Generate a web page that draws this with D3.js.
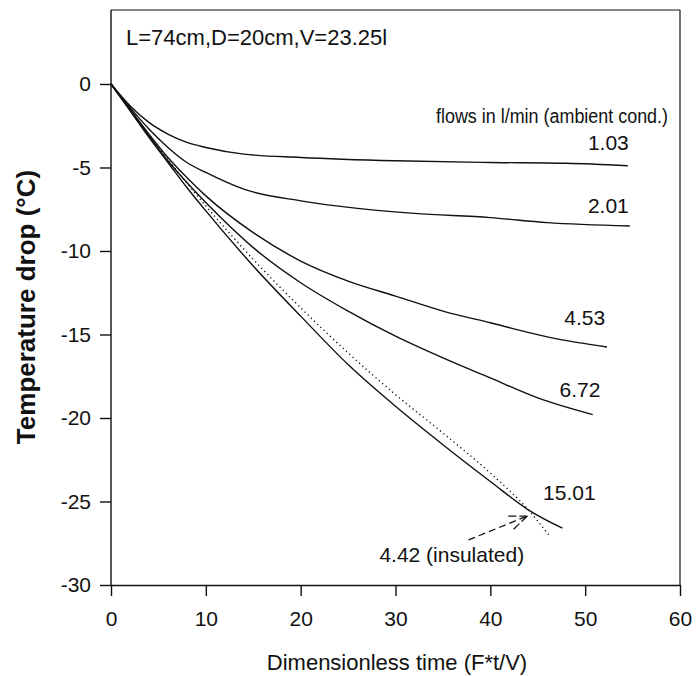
<!DOCTYPE html>
<html>
<head>
    <title>Temperature drop</title>
    <style type="text/css">
        body { margin: 0; background: #fff; }
        svg text {
            font-family: "Liberation Sans", Arial, sans-serif;
            font-size: 21px;
            fill: #111;
        }
        .curve { fill: none; stroke: #111; stroke-width: 1.4; }
        .domain, .tick line { stroke: #111; stroke-width: 1.4; }
    </style>
</head>
<body>
<script src="https://d3js.org/d3.v7.min.js" type="text/javascript"></script>
<script type="text/javascript">

    // tick values
    var xTicks = [0, 10, 20, 30, 40, 50, 60];
    var yTicks = [0, -5, -10, -15, -20, -25, -30];

    // flows in l/min and their curves [time, drop]
    var flowLabels = ['1.03', '2.01', '4.53', '6.72', '15.01'];
    var flow103 = [[0,0],[2,-1.3],[4,-2.3],[6,-3.0],[8,-3.5],[10,-3.8],[14,-4.2],[20,-4.4],[30,-4.6],[40,-4.7],[48,-4.75],[54.5,-4.9]];
    var flow201 = [[0,0],[2,-1.4],[4,-2.7],[6,-3.8],[8,-4.7],[10,-5.3],[14,-6.3],[20,-7.0],[26,-7.45],[32,-7.75],[40,-8.0],[46,-8.3],[54.7,-8.5]];
    var flow453 = [[0,0],[2,-1.5],[4,-3.0],[6,-4.4],[8,-5.6],[10,-6.7],[15,-8.9],[20,-10.6],[25,-11.8],[30,-12.7],[35,-13.6],[40,-14.3],[46.5,-15.2],[52.3,-15.75]];
    var flow672 = [[0,0],[2,-1.55],[4,-3.1],[6,-4.6],[8,-5.9],[10,-7.1],[15,-9.8],[20,-11.9],[25,-13.6],[30,-15.1],[35,-16.4],[40,-17.6],[45,-18.8],[50.8,-19.8]];
    var flow1501 = [[0,0],[2,-1.6],[4,-3.2],[6,-4.7],[8,-6.2],[10,-7.6],[15,-10.9],[20,-13.9],[25,-16.8],[30,-19.3],[35,-21.6],[40,-23.8],[44,-25.5],[47.6,-26.6]];
    // insulated run, 4.42 l/min (dotted)
    var insulated = [[0,0],[5,-3.8],[10,-7.3],[15,-10.5],[20,-13.4],[25,-16.1],[30,-18.6],[35,-20.9],[40,-23.3],[44,-25.5],[46.3,-27.1]];

    // label anchors (right end, baseline) in data units
    var labelPos = [[54.6,-3.95],[54.6,-7.75],[52.1,-14.45],[51.6,-18.75],[51.1,-24.9]];

    var svg = d3.select('body').append('svg')
        .attr('width', 696)
        .attr('height', 676);

    var x = d3.scaleLinear().domain([0, 60]).range([111, 680]);
    var y = d3.scaleLinear().domain([-30, 4.43]).range([585, 10]);

    // frame top and right
    svg.append('line').attr('x1', x(0)).attr('x2', x(60)).attr('y1', y(4.43)).attr('y2', y(4.43))
        .attr('stroke', '#111').attr('stroke-width', 1.2);
    svg.append('line').attr('x1', x(60)).attr('x2', x(60)).attr('y1', y(4.43)).attr('y2', y(-30))
        .attr('stroke', '#111').attr('stroke-width', 1.2);

    var fmt = function (d) { return String(d); };
    var xAxis = svg.append('g')
        .attr('transform', 'translate(0,' + y(-30) + ')')
        .call(d3.axisBottom(x).tickValues(xTicks).tickFormat(fmt).tickSize(11).tickPadding(15).tickSizeOuter(0));
    var yAxis = svg.append('g')
        .attr('transform', 'translate(' + x(0) + ',0)')
        .call(d3.axisLeft(y).tickValues(yTicks).tickFormat(fmt).tickSize(11).tickPadding(9).tickSizeOuter(0));
    svg.selectAll('.tick text').style('font-family', '"Liberation Sans", Arial, sans-serif').style('font-size', '21px').attr('fill', '#111');
    // axis line spans the whole frame
    yAxis.select('.domain').attr('d', 'M0,' + y(-30) + 'V' + y(4.43));

    var line = d3.line()
        .x(function (d) { return x(d[0]); })
        .y(function (d) { return y(d[1]); })
        .curve(d3.curveMonotoneX);

    var curves = [flow103, flow201, flow453, flow672, flow1501];
    svg.selectAll('path.curve')
        .data(curves)
        .enter().append('path')
        .attr('class', 'curve')
        .attr('d', line);

    svg.append('path')
        .attr('class', 'curve')
        .attr('stroke-dasharray', '1.2,3.2')
        .attr('stroke-width', 1.3)
        .attr('d', line(insulated));

    svg.selectAll('text.flow')
        .data(flowLabels)
        .enter().append('text')
        .attr('class', 'flow')
        .attr('text-anchor', 'end')
        .attr('x', function (d, i) { return x(labelPos[i][0]); })
        .attr('y', function (d, i) { return y(labelPos[i][1]); })
        .text(function (d) { return d; });

    svg.append('text').attr('x', 126).attr('y', 45).style('font-size', '22px').text('L=74cm,D=20cm,V=23.25l');
    svg.append('text').attr('x', 668).attr('y', 123).attr('text-anchor', 'end')
        .style('font-size', '20px').attr('textLength', 232).attr('lengthAdjust', 'spacingAndGlyphs')
        .text('flows in l/min (ambient cond.)');
    svg.append('text').attr('x', x(28.3)).attr('y', 562).text('4.42 (insulated)');

    // dashed arrow to the insulated curve
    var tail = [37.7, -27.3], tip = [43.9, -25.87];
    svg.append('line')
        .attr('x1', x(tail[0])).attr('y1', y(tail[1]))
        .attr('x2', x(tip[0])).attr('y2', y(tip[1]))
        .attr('stroke', '#111').attr('stroke-width', 1.3).attr('stroke-dasharray', '7,4');
    var ang = Math.atan2(y(tip[1]) - y(tail[1]), x(tip[0]) - x(tail[0]));
    [0.38, -0.38].forEach(function (a) {
        svg.append('line')
            .attr('x1', x(tip[0])).attr('y1', y(tip[1]))
            .attr('x2', x(tip[0]) - 20 * Math.cos(ang + a)).attr('y2', y(tip[1]) - 20 * Math.sin(ang + a))
            .attr('stroke', '#111').attr('stroke-width', 1.3).attr('stroke-dasharray', '8,3');
    });

    svg.append('text').attr('x', 397).attr('y', 670).attr('text-anchor', 'middle')
        .style('font-size', '22px').text('Dimensionless time (F*t/V)');
    svg.append('text')
        .attr('transform', 'translate(35,307) rotate(-90)')
        .attr('text-anchor', 'middle')
        .style('font-size', '26px').style('font-weight', 'bold')
        .text('Temperature drop (°C)');
</script>
</body>
</html>
